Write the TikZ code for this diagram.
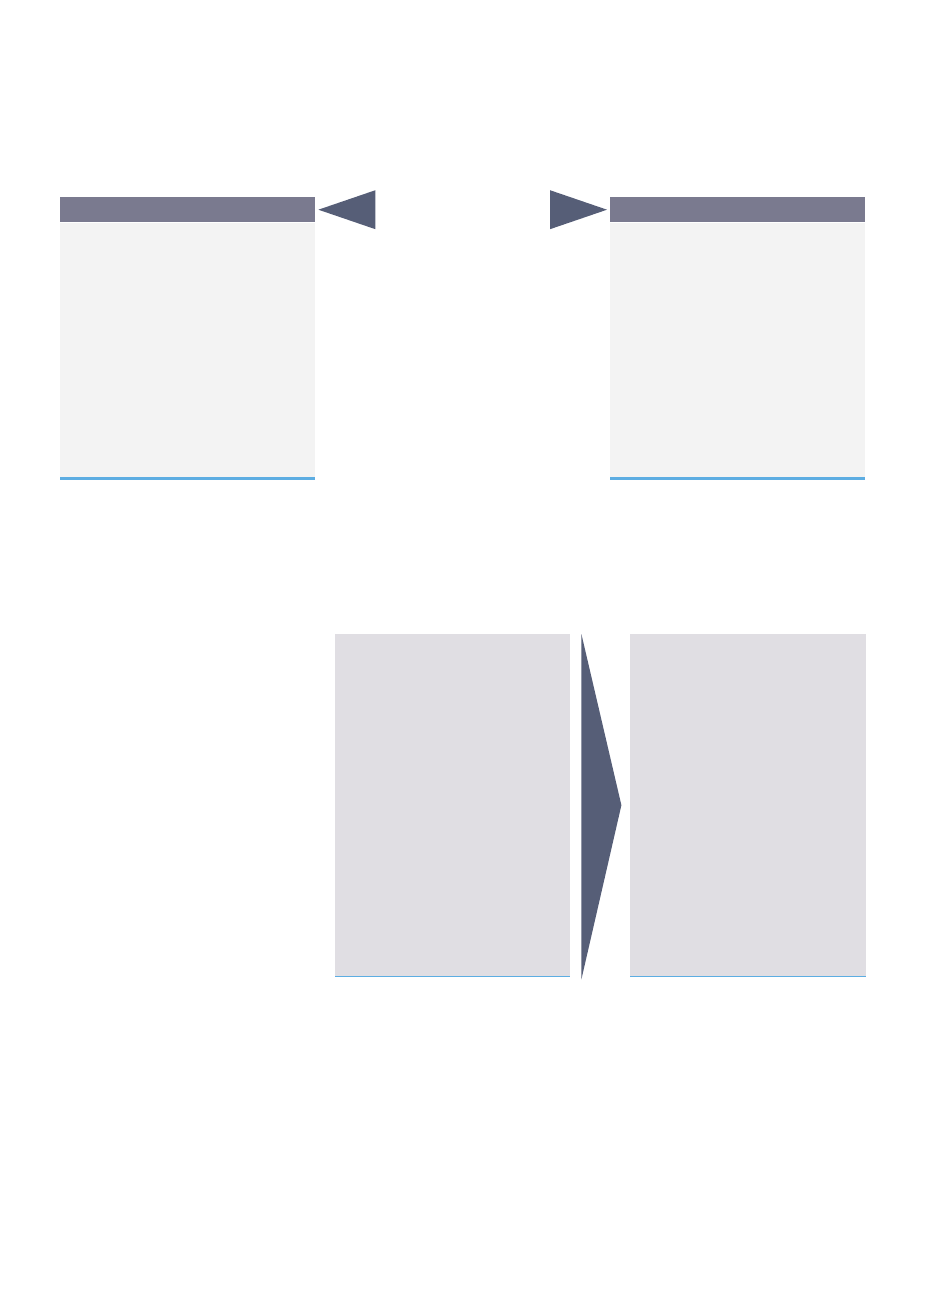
\documentclass[tikz,border=0pt]{standalone}
\usepackage{tikz}
\usetikzlibrary{positioning, calc}
\definecolor{head_c}{RGB}{122, 122, 143}
\definecolor{panel_c}{RGB}{243, 243, 243}
\definecolor{edge_c}{RGB}{93, 173, 226}
\definecolor{pointer_c}{RGB}{86, 94, 119}
\definecolor{card_c}{RGB}{224, 222, 227}
\tikzstyle{header} = [rectangle, inner sep=0pt, minimum width=255pt, minimum height=25pt, fill=head_c]
\tikzstyle{panel} = [rectangle, inner sep=0pt, minimum width=255pt, minimum height=256pt, fill=panel_c]
\tikzstyle{card} = [rectangle, inner sep=0pt, minimum height=342pt, fill=card_c]
\tikzstyle{pointer} = [fill=pointer_c]
\tikzstyle{edgeline} = [draw=edge_c, line width=3pt]

\begin{document}
\begin{tikzpicture}[x=1pt, y=-1pt]
\useasboundingbox (0,0) rectangle (925,1291);

% Top Left Panel
\node[header, anchor=north west] (head_l) at (60,197) {};
\node[panel, below=0pt of head_l] (panel_l) {};

% Top Right Panel
\node[header, anchor=north west] (head_r) at (610,197) {};
\node[panel, below=0pt of head_r] (panel_r) {};

% Bottom Cards
\node[card, minimum width=235pt, anchor=north west] (card_a) at (335,634) {};
\node[card, minimum width=236pt, anchor=north west] (card_b) at (630,634) {};

% Edge lines
\draw[edgeline] (panel_l.south west) -- (panel_l.south east);
\draw[edgeline] (panel_r.south west) -- (panel_r.south east);
\draw[edgeline, line width=1pt] (card_a.south west) -- (card_a.south east);
\draw[edgeline, line width=1pt] (card_b.south west) -- (card_b.south east);

% Pointers
\fill[pointer] ($(head_l.east)+(3,0)$) -- ($(head_l.east)+(60,-19.5)$) -- ($(head_l.east)+(60,19.5)$) -- cycle;
\fill[pointer] ($(head_r.west)+(-3,0)$) -- ($(head_r.west)+(-60,-19.5)$) -- ($(head_r.west)+(-60,19.5)$) -- cycle;
\fill[pointer] ($(card_a.north east)+(11,0)$) -- ($(card_a.east)+(51,0)$) -- ($(card_a.south east)+(11,3)$) -- cycle;

\end{tikzpicture}
\end{document}
